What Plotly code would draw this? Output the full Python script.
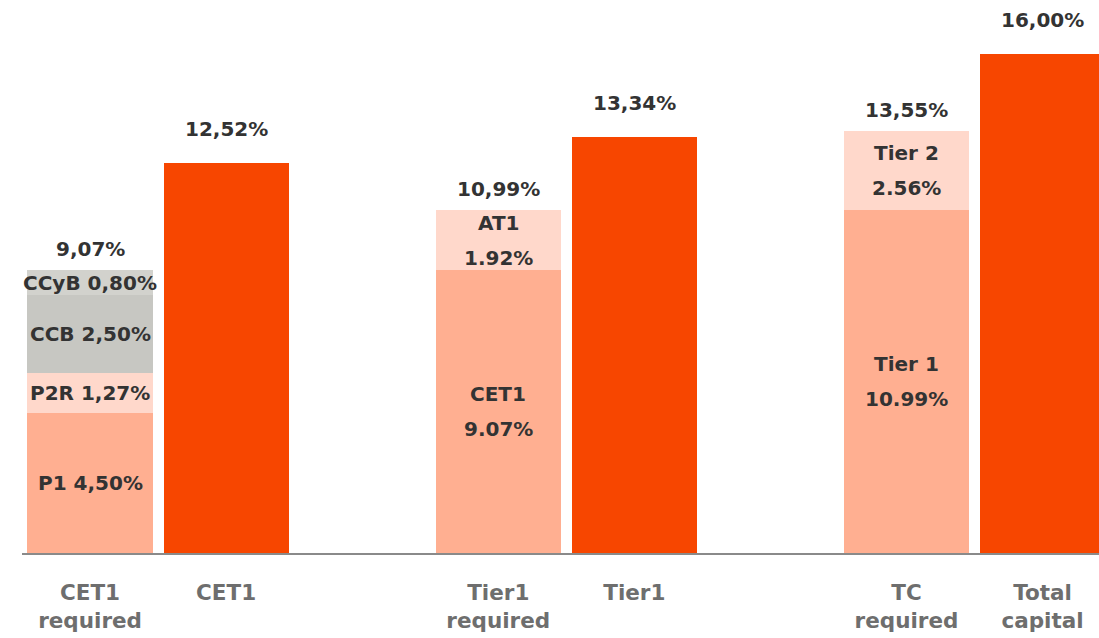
import plotly.graph_objects as go

# ---- data ----
categories = ["CET1<br>required", "CET1", " ", "Tier1<br>required", "Tier1", "  ",
              "TC<br>required", "Total<br>capital"]

cet1_req_cat = "CET1<br>required"
cet1_req_labels = ["P1 4,50%", "P2R 1,27%", "CCB 2,50%", "CCyB 0,80%"]
cet1_req_values = [4.50, 1.27, 2.50, 0.80]

tier1_req_cat = "Tier1<br>required"
tier1_req_labels = [["CET1", "9.07%"], ["AT1", "1.92%"]]
tier1_req_values = [9.07, 1.92]

tc_req_cat = "TC<br>required"
tc_req_labels = [["Tier 1", "10.99%"], ["Tier 2", "2.56%"]]
tc_req_values = [10.99, 2.56]

actual_categories = ["CET1", "Tier1", "Total<br>capital"]
actual_values = [12.52, 13.34, 16.00]

# ---- styles ----
C_DARK = "#F74600"
C_SALMON = "#FFAF91"
C_LIGHT = "#FFD8CB"
C_GREY = "#C7C7C2"
C_GREY_L = "#D2D2CD"
TXT = "#333333"
FONT = "DejaVu Sans"
FS = 20

cet1_colors = [C_SALMON, C_LIGHT, C_GREY, C_GREY_L]
two_colors = [C_SALMON, C_LIGHT]

fig = go.Figure()
annotations = []


def fmt(v):
    return f"{v:.2f}%".replace(".", ",")


def add_stack(cat, values, colors, labels, single_line):
    base = 0.0
    for v, c, lab in zip(values, colors, labels):
        fig.add_trace(go.Bar(x=[cat], y=[v], marker=dict(color=c, line=dict(width=0)),
                             showlegend=False, hoverinfo="skip"))
        mid = base + v / 2
        if single_line:
            annotations.append(dict(x=cat, y=mid, text=lab, showarrow=False,
                                    font=dict(family=FONT, size=FS, color=TXT, weight=700)))
        else:
            for line, sh in zip(lab, [17.5, -17.5]):
                annotations.append(dict(x=cat, y=mid, text=line, showarrow=False, yshift=sh,
                                        font=dict(family=FONT, size=FS, color=TXT, weight=700)))
        base += v
    annotations.append(dict(x=cat, y=base, text=fmt(base), showarrow=False,
                            yanchor="bottom", yshift=7,
                            font=dict(family=FONT, size=FS, color=TXT, weight=700)))


add_stack(cet1_req_cat, cet1_req_values, cet1_colors, cet1_req_labels, True)
add_stack(tier1_req_cat, tier1_req_values, two_colors, tier1_req_labels, False)
add_stack(tc_req_cat, tc_req_values, two_colors, tc_req_labels, False)

fig.add_trace(go.Bar(x=actual_categories, y=actual_values,
                     marker=dict(color=C_DARK, line=dict(width=0)),
                     showlegend=False, hoverinfo="skip"))
for cat, v in zip(actual_categories, actual_values):
    annotations.append(dict(x=cat, y=v, text=fmt(v), showarrow=False,
                            yanchor="bottom", yshift=20,
                            font=dict(family=FONT, size=FS, color=TXT, weight=700)))

fig.update_layout(
    width=1099, height=638,
    margin=dict(l=22, r=0, t=0, b=85),
    barmode="stack", bargap=0.08,
    plot_bgcolor="white", paper_bgcolor="white",
    annotations=annotations,
    xaxis=dict(type="category", categoryorder="array", categoryarray=categories,
               range=[-0.5, 7.415], showgrid=False, zeroline=False,
               showline=True, linecolor="#8a8a8a", linewidth=2,
               ticks="outside", ticklen=19, tickcolor="rgba(0,0,0,0)",
               tickfont=dict(family=FONT, size=21.5, color="#6e6e6e", weight=700),
               fixedrange=True),
    yaxis=dict(range=[0, 17.74], visible=False, fixedrange=True),
)

fig.write_html("out.html",
               post_script="document.body.style.margin='0';document.body.style.overflow='hidden';",
               config={"displayModeBar": False})
